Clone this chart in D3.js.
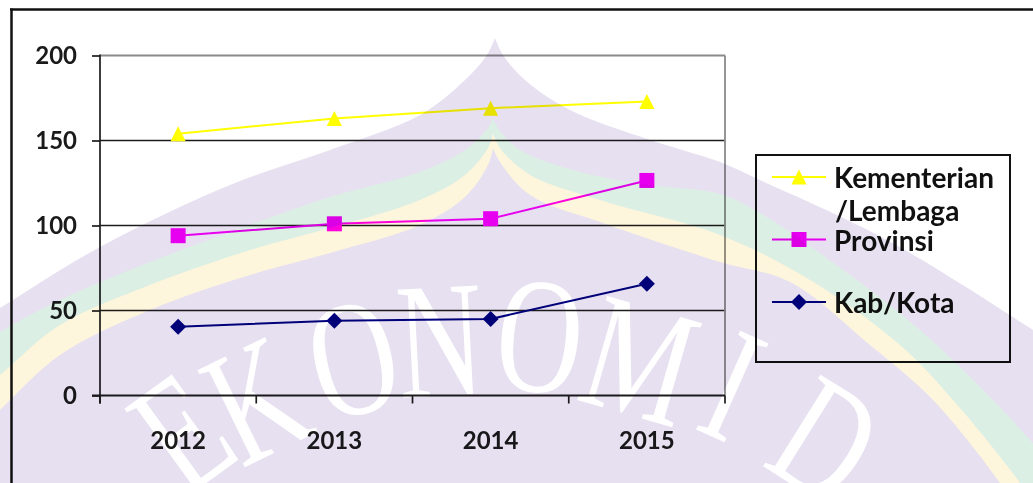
<!DOCTYPE html>
<html><head><meta charset="utf-8">
<script src="https://cdn.jsdelivr.net/npm/d3@7"></script>
<style>html,body{margin:0;padding:0;background:#fff;overflow:hidden} svg{display:block;}</style>
</head><body>
<script>
// ---- data ----
const categories = ["2012", "2013", "2014", "2015"];
const seriesNames = ["Kementerian/Lembaga", "Provinsi", "Kab/Kota"];
const kementerian = [154, 163, 169, 173];
const provinsi = [94, 101, 104, 126.5];
const kabKota = [40.5, 44, 45, 65.7];
const yTicks = [0, 50, 100, 150, 200];

const seriesValues = [kementerian, provinsi, kabKota];
const seriesColors = ["#ffff00", "#ff00ff", "#000080"];
const seriesShapes = ["triangle", "square", "diamond"];

const W = 1033, H = 483;
const svg = d3.select("body").append("svg").attr("width", W).attr("height", H);
svg.append("rect").attr("width", W).attr("height", H).attr("fill", "#fff");

const x = d3.scaleBand().domain(categories).range([100, 725]);
const y = d3.scaleLinear().domain([0, 200]).range([395.5, 55.5]);
const cx = c => x(c) + x.bandwidth() / 2;

const FONT = "Lato, 'Open Sans', sans-serif";

function markerPath(shape) {
  if (shape === "triangle") return "M0,-7.5L7.6,7.5L-7.6,7.5Z";
  if (shape === "square") return "M-7.5,-7.5H7.5V7.5H-7.5Z";
  return "M0,-8L8,0L0,8L-8,0Z";
}

// frame
svg.append("line").attr("x1", 10).attr("x2", W).attr("y1", 9.5).attr("y2", 9.5)
  .attr("stroke", "#111").attr("stroke-width", 2.5);
svg.append("line").attr("x1", 11.5).attr("x2", 11.5).attr("y1", 8.5).attr("y2", H)
  .attr("stroke", "#111").attr("stroke-width", 2.5);

// gridlines
const plot = svg.append("g");
plot.selectAll(".grid").data(yTicks.filter(t => t > 0)).enter().append("line")
  .attr("x1", 100).attr("x2", 725)
  .attr("y1", d => y(d)).attr("y2", d => y(d))
  .attr("stroke", d => d === 200 ? "#8a8a8a" : "#1c1c1c")
  .attr("stroke-width", d => d === 200 ? 2 : 1.7);
plot.append("line").attr("x1", 725).attr("x2", 725).attr("y1", y(200)).attr("y2", y(0))
  .attr("stroke", "#8a8a8a").attr("stroke-width", 1.8);

// y axis
const yAxis = d3.axisLeft(y).tickValues(yTicks).tickSize(8).tickPadding(15);
const gy = svg.append("g").attr("transform", "translate(100,0)").call(yAxis);
gy.select(".domain").remove();
gy.selectAll(".tick line").attr("stroke", "#1c1c1c").attr("stroke-width", 1.7);
gy.selectAll(".tick text").attr("fill", "#1a1a1a").style("font-family", FONT)
  .style("font-weight", "bold").style("font-size", "24px");
svg.append("line").attr("x1", 100).attr("x2", 100).attr("y1", y(200) - 1).attr("y2", y(0) + 8)
  .attr("stroke", "#1c1c1c").attr("stroke-width", 1.7);

// x axis
const xAxis = d3.axisBottom(x).tickSize(0).tickPadding(36);
const gx = svg.append("g").attr("transform", `translate(0,${y(0)})`).call(xAxis);
gx.select(".domain").remove();
gx.selectAll(".tick text").attr("fill", "#1a1a1a").style("font-family", FONT)
  .style("font-weight", "bold").style("font-size", "24px");
svg.append("line").attr("x1", 92).attr("x2", 725).attr("y1", y(0)).attr("y2", y(0))
  .attr("stroke", "#1c1c1c").attr("stroke-width", 1.8);
const boundaries = categories.map(c => x(c)).concat([x.range()[1]]);
svg.selectAll(".xb").data(boundaries).enter().append("line")
  .attr("x1", d => d).attr("x2", d => d).attr("y1", y(0)).attr("y2", y(0) + 8)
  .attr("stroke", "#1c1c1c").attr("stroke-width", 1.7);

// series
const line = d3.line().x((d, i) => cx(categories[i])).y(d => y(d));
seriesValues.forEach((vals, si) => {
  svg.append("path").attr("d", line(vals)).attr("fill", "none")
    .attr("stroke", seriesColors[si]).attr("stroke-width", 2);
  svg.selectAll(null).data(vals).enter().append("path")
    .attr("d", markerPath(seriesShapes[si]))
    .attr("transform", (d, i) => `translate(${cx(categories[i])},${y(d)})`)
    .attr("fill", seriesColors[si]);
});

// legend
const lg = svg.append("g");
lg.append("rect").attr("x", 756).attr("y", 155).attr("width", 254).attr("height", 207)
  .attr("fill", "#fff").attr("stroke", "#111").attr("stroke-width", 2);
const legendY = [177, 239.5, 302];
seriesNames.forEach((name, si) => {
  const ly = legendY[si];
  lg.append("line").attr("x1", 772).attr("x2", 826).attr("y1", ly).attr("y2", ly)
    .attr("stroke", seriesColors[si]).attr("stroke-width", 2);
  lg.append("path").attr("d", markerPath(seriesShapes[si]))
    .attr("transform", `translate(799,${ly})`).attr("fill", seriesColors[si]);
  const parts = name.length > 12 ? name.replace("/", "\n/").split("\n") : [name];
  const t = lg.append("text").attr("x", 834).attr("y", ly + 11)
    .style("font-family", FONT).style("font-weight", "bold").style("font-size", "28px")
    .attr("fill", "#111");
  parts.forEach((p, k) => {
    t.append("tspan").attr("x", 834 + (k > 0 ? 1 : 0)).attr("dy", k === 0 ? 0 : 33).text(p);
  });
});

// ---- watermark (decorative background logo) ----
const wm = svg.append("g").style("mix-blend-mode", "multiply");
const cr = d3.line().curve(d3.curveCatmullRom.alpha(0.5));
function region(L, R) {
  const a = cr(L);
  const b = cr(R).replace(/^M/, "L");
  return a + b + "L1200,700L-200,700Z";
}
const outerL = [[-60,345],[0,308],[100,247],[230,185],[330,150],[420,115],[465,80],[487,55],[495,38]];
const outerR = [[495,38],[503,55],[525,80],[570,110],[650,140],[720,162],[760,180],[887,240],[1033,330],[1090,368]];
const greenL = [[-60,370],[0,332],[60,300],[150,262],[250,225],[330,197],[420,172],[465,150],[488,128],[493,118]];
const greenR = [[493,118],[498,128],[520,150],[580,172],[650,185],[720,194],[760,213],[850,275],[920,330],[993,400],[1060,475],[1100,530]];
const yellowL = [[-60,425],[0,375],[60,325],[150,285],[250,250],[330,228],[420,200],[465,175],[488,148],[493,133]];
const yellowR = [[493,133],[500,148],[530,175],[600,200],[720,235],[810,280],[900,345],[953,400],[1020,483],[1050,530]];
const innerL = [[-60,470],[0,410],[60,355],[150,310],[250,275],[330,253],[420,225],[465,197],[488,165],[493,148]];
const innerR = [[493,148],[500,162],[530,195],[600,222],[720,262],[790,282],[870,345],[933,400],[1000,483],[1030,530]];
wm.append("path").attr("d", region(outerL, outerR)).attr("fill", "#e7e0f0");
wm.append("path").attr("d", region(greenL, greenR)).attr("fill", "#dcefe4");
wm.append("path").attr("d", region(yellowL, yellowR)).attr("fill", "#fdf5dc");
wm.append("path").attr("d", region(innerL, innerR)).attr("fill", "#e7e0f0");
const letters = [
  ["E", 182, 432, -36], ["K", 256, 400, -26], ["O", 353, 358, -13], ["N", 440, 340, -3],
  ["O", 540, 336, 6], ["M", 640, 360, 16], ["I", 733, 385, 24], ["D", 826, 440, 32]
];
wm.selectAll(".wl").data(letters).enter().append("text")
  .attr("transform", d => `translate(${d[1]},${d[2]}) rotate(${d[3]}) scale(0.72,1)`)
  .attr("text-anchor", "middle").attr("dominant-baseline", "central")
  .style("font-family", "'Liberation Serif', 'DejaVu Serif', serif")
  .style("font-size", "165px").attr("fill", "#fff")
  .text(d => d[0]);
</script>
</body></html>
